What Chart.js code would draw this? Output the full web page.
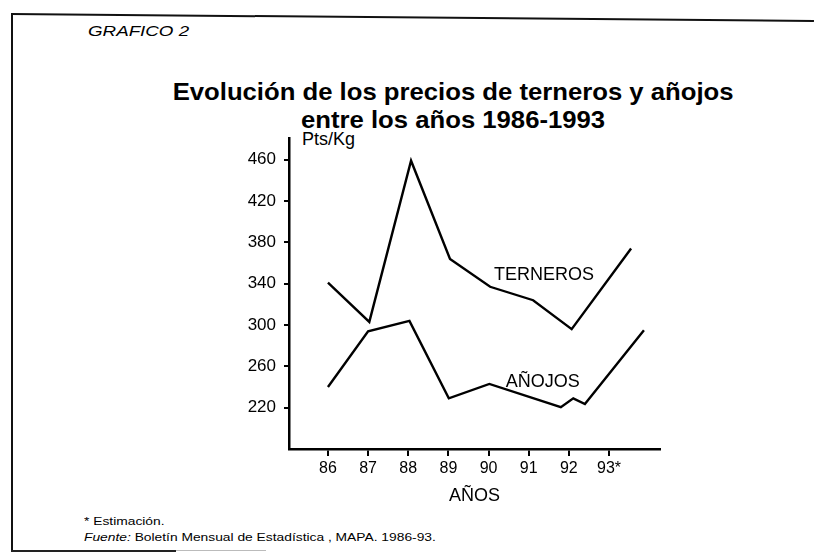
<!DOCTYPE html>
<html>
<head>
<meta charset="utf-8">
<script src="https://cdn.jsdelivr.net/npm/chart.js@4.4.1/dist/chart.umd.min.js"></script>
<style>
  html, body { margin: 0; padding: 0; background: #fff; }
  body { width: 814px; height: 554px; position: relative; overflow: hidden; font-family: "Liberation Sans", Arial, sans-serif; color: #000; }
  #wrap { position: absolute; left: 0; top: 0; width: 814px; height: 554px; }
  .t { position: absolute; white-space: nowrap; line-height: 1; }
  .frame { position: absolute; background: #111; }
</style>
</head>
<body>
<div class="frame" style="left:11px; top:13px; width:803px; height:2px; transform: rotate(0.5deg); transform-origin: left center;"></div>
<div class="frame" style="left:11px; top:13px; width:2px; height:539px;"></div>
<div class="frame" style="left:11px; top:550px; width:165px; height:2px; background:#222;"></div>
<div class="frame" style="left:176px; top:550px; width:90px; height:1px; background:#bbb;"></div>

<div class="t" style="left:88px; top:23px; font-size:15px; font-style:italic; transform:scaleX(1.25); transform-origin:left;">GRAFICO 2</div>
<div class="t" style="left:0; width:906px; top:78px; text-align:center; font-size:24px; font-weight:bold; line-height:28px;">
  <span style="display:inline-block; transform:scaleX(1.07);">Evolución de los precios de terneros y añojos</span><br>
  <span style="display:inline-block; transform:scaleX(1.07);">entre los años 1986-1993</span>
</div>
<div class="t" style="left:302px; top:130px; font-size:18px;">Pts/Kg</div>
<div class="t" style="left:84px; top:516px; font-size:11.5px; transform:scaleX(1.2); transform-origin:left;">* Estimación.</div>
<div class="t" style="left:84px; top:532px; font-size:11.5px; transform:scaleX(1.2); transform-origin:left;"><i>Fuente:</i> Boletín Mensual de Estadística , MAPA. 1986-93.</div>

<div id="wrap"><canvas id="c" width="814" height="554"></canvas></div>

<script>
// ---- data ----
const xTickValues = [86, 87, 88, 89, 90, 91, 92, 93];
const xTickLabels = ['86', '87', '88', '89', '90', '91', '92', '93*'];
const yTickValues = [220, 260, 300, 340, 380, 420, 460];

const seriesNames = ['TERNEROS', 'AÑOJOS'];
const terneroYears = [86, 87.03, 88.07, 89.04, 90.04, 91.11, 92.07, 93.55];
const terneroPrices = [341, 303, 459, 364, 337, 324, 296, 374];
const anojoYears = [86, 87.0, 88.03, 89.01, 90.02, 91.8, 92.11, 92.4, 93.87];
const anojoPrices = [240, 294, 304, 229, 243, 220.5, 229, 223.5, 295];

// label anchors in data units (where the series names sit)
const labelAnchorX = [91.38, 91.35];
const labelAnchorY = [348, 245];

const toPoints = (xs, ys) => xs.map((x, i) => ({ x: x, y: ys[i] }));

const seriesLabelPlugin = {
  id: 'seriesLabels',
  afterDatasetsDraw(chart) {
    const { ctx, scales } = chart;
    ctx.save();
    ctx.fillStyle = '#000';
    ctx.font = '18px "Liberation Sans", Arial, sans-serif';
    ctx.textAlign = 'center';
    ctx.textBaseline = 'middle';
    seriesNames.forEach((name, i) => {
      ctx.fillText(name, scales.x.getPixelForValue(labelAnchorX[i]), scales.y.getPixelForValue(labelAnchorY[i]));
    });
    ctx.restore();
  }
};

const tickFont = { family: '"Liberation Sans", Arial, sans-serif', size: 16 };

new Chart(document.getElementById('c'), {
  type: 'line',
  data: {
    datasets: [
      { label: seriesNames[0], data: toPoints(terneroYears, terneroPrices), borderColor: '#000', borderWidth: 2.4, pointRadius: 0, tension: 0, fill: false },
      { label: seriesNames[1], data: toPoints(anojoYears, anojoPrices), borderColor: '#000', borderWidth: 2.4, pointRadius: 0, tension: 0, fill: false }
    ]
  },
  options: {
    responsive: false,
    devicePixelRatio: 1,
    animation: false,
    layout: { padding: { left: 229, right: 154, top: 138, bottom: 45 } },
    plugins: { legend: { display: false }, tooltip: { enabled: false }, title: { display: false } },
    scales: {
      x: {
        type: 'linear',
        min: 85.03,
        max: 94.27,
        afterFit: (s) => { s.height = 60; },
        afterBuildTicks: (s) => { s.ticks = xTickValues.map(v => ({ value: v })); },
        ticks: {
          color: '#000', font: tickFont, padding: 3, maxRotation: 0, autoSkip: false,
          callback: (v) => { const i = xTickValues.indexOf(v); return i >= 0 ? xTickLabels[i] : ''; }
        },
        grid: { display: true, drawOnChartArea: false, drawTicks: true, tickLength: 7, color: '#000', lineWidth: 2 },
        border: { display: true, color: '#000', width: 2.5 },
        title: { display: true, text: 'AÑOS', color: '#000', font: { family: '"Liberation Sans", Arial, sans-serif', size: 18 }, padding: { top: 0, bottom: 2 } }
      },
      y: {
        type: 'linear',
        min: 180,
        max: 481,
        afterFit: (s) => { s.width = 60; },
        afterBuildTicks: (s) => { s.ticks = yTickValues.map(v => ({ value: v })); },
        ticks: { color: '#000', font: { family: '"Liberation Sans", Arial, sans-serif', size: 17 }, padding: 8 },
        grid: { display: true, drawOnChartArea: false, drawTicks: true, tickLength: 5, color: '#000', lineWidth: 2 },
        border: { display: true, color: '#000', width: 2.5 }
      }
    }
  },
  plugins: [seriesLabelPlugin]
});
</script>
</body>
</html>
